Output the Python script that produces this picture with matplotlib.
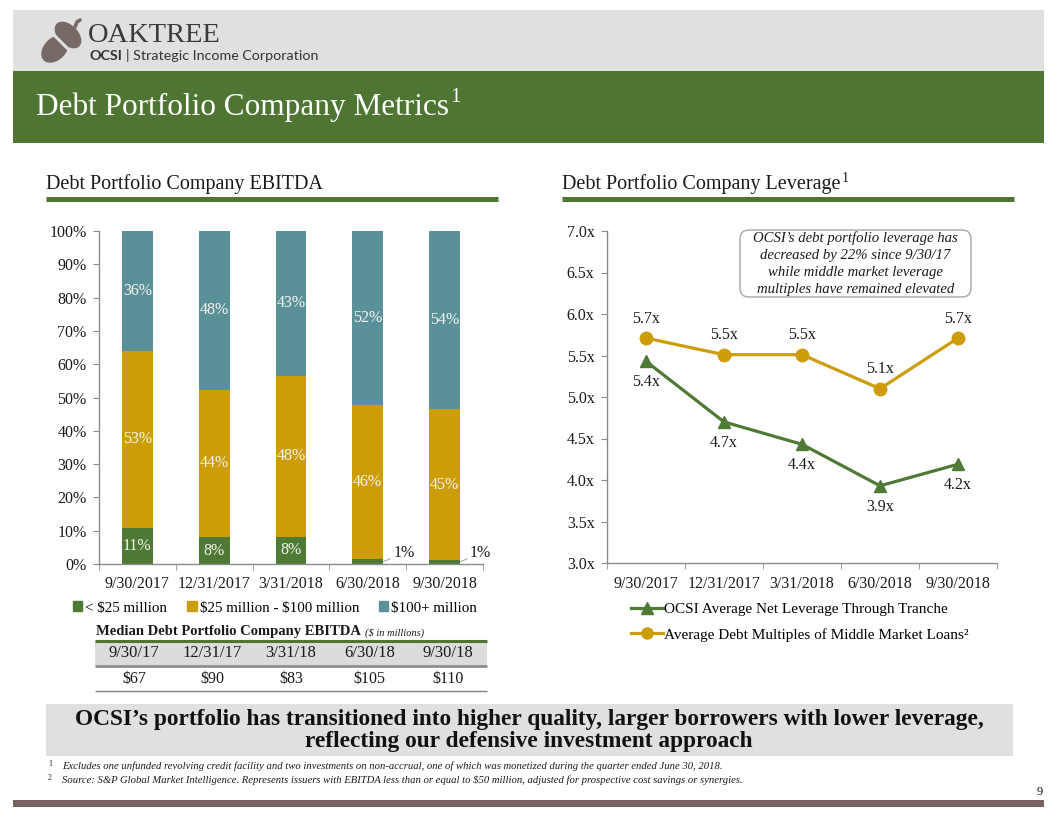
"""Debt Portfolio Company Metrics slide (OCSI) rebuilt with matplotlib."""

import matplotlib
matplotlib.use("Agg")
import matplotlib.pyplot as plt
from matplotlib.patches import Rectangle, FancyBboxPatch, Ellipse, Patch
from matplotlib.lines import Line2D

# ── data ─────────────────────────────────────────────────────────────────────
QUARTERS = ["9/30/2017", "12/31/2017", "3/31/2018", "6/30/2018", "9/30/2018"]
SIZE_BUCKETS = [r"< \$25 million", r"\$25 million - \$100 million", r"\$100+ million"]
EBITDA_SMALL = [10.8, 8.1, 8.2, 1.4, 1.3]      # < $25 million (%)
EBITDA_MID = [53.2, 44.3, 48.4, 46.3, 45.1]    # $25 - $100 million (%)
EBITDA_LARGE = [36.0, 47.6, 43.4, 52.3, 53.6]  # $100+ million (%)

TABLE_DATES = ["9/30/17", "12/31/17", "3/31/18", "6/30/18", "9/30/18"]
MEDIAN_EBITDA = [67, 90, 83, 105, 110]          # $ in millions

LEVERAGE_SERIES = ["OCSI Average Net Leverage Through Tranche",
                   "Average Debt Multiples of Middle Market Loans²"]
OCSI_LEVERAGE = [5.43, 4.70, 4.43, 3.93, 4.19]
MARKET_LEVERAGE = [5.71, 5.51, 5.51, 5.10, 5.71]

# ── styling ──────────────────────────────────────────────────────────────────
W, H = 1056, 816
GREEN = "#4E7A35"
HEADER_GREEN = "#4E7531"
GOLD = "#CC9D07"
TEAL = "#5A9199"
LIGHT_GRAY = "#E0E0E0"
AXIS_GRAY = "#8C8C8C"
TEXT = "#1a1a1a"

plt.rcParams["font.family"] = ["Liberation Serif", "DejaVu Serif"]


def box(l, t, r, b):
    """Pixel box (top-left origin) -> figure fraction rect."""
    return [l / W, 1 - b / H, (r - l) / W, (b - t) / H]


fig = plt.figure(figsize=(W / 100, H / 100), dpi=100)
renderer = fig.canvas.get_renderer()

# background layer in pixel coordinates
bg = fig.add_axes([0, 0, 1, 1])
bg.set_xlim(0, W)
bg.set_ylim(H, 0)
bg.axis("off")


def text_right_edge(t):
    bb = t.get_window_extent(renderer=renderer)
    return bb.x1  # display px == image px at dpi 100


# ── header ───────────────────────────────────────────────────────────────────
bg.add_patch(Rectangle((13, 10), 1031, 61, fc=LIGHT_GRAY, ec="none"))
bg.add_patch(Rectangle((13, 71), 1031, 72, fc=HEADER_GREEN, ec="none"))

# acorn logo: nut lower-left, cap upper-right, split by a light gap
acorn = "#766A66"
bg.add_patch(Ellipse((55, 49), 22, 32, angle=45, fc=acorn, ec="none"))
bg.add_patch(Ellipse((68, 35), 32, 20, angle=45, fc=acorn, ec="none"))
bg.plot([51, 73], [32, 54], color=LIGHT_GRAY, lw=2.2, solid_capstyle="butt")
bg.plot([75, 77, 80], [27, 22, 20], color=acorn, lw=2.6, solid_capstyle="round")

bg.text(88, 35, "OAKTREE", fontsize=20.5, color="#3a3a3a", va="center", ha="left")
t = bg.text(90, 56, "OCSI", fontsize=10.3, weight="bold", color="#333333",
            family=["Lato", "DejaVu Sans"], va="center", ha="left")
x_end = text_right_edge(t)
bg.text(x_end + 3, 56, "| Strategic Income Corporation", fontsize=10.3, color="#333333",
        family=["Lato", "DejaVu Sans"], va="center", ha="left")

t = bg.text(36, 107, "Debt Portfolio Company Metrics", fontsize=22.5, color="white",
            va="center", ha="left")
bg.text(text_right_edge(t) + 1, 97, "1", fontsize=15, color="white", va="center", ha="left")

# ── section titles ───────────────────────────────────────────────────────────
bg.text(46, 184, "Debt Portfolio Company EBITDA", fontsize=14.5, color=TEXT, va="center")
t = bg.text(562, 184, "Debt Portfolio Company Leverage", fontsize=14.5, color=TEXT,
            va="center")
bg.text(text_right_edge(t) + 1, 178, "1", fontsize=10, color=TEXT, va="center")
bg.plot([46, 498], [198.5, 198.5], color=HEADER_GREEN, lw=3.6, solid_capstyle="butt")
bg.plot([562, 1014], [198.5, 198.5], color=HEADER_GREEN, lw=3.6, solid_capstyle="butt")


def style_axes(ax):
    ax.set_facecolor("none")
    for side in ("top", "right"):
        ax.spines[side].set_visible(False)
    for side in ("left", "bottom"):
        ax.spines[side].set_color(AXIS_GRAY)
        ax.spines[side].set_linewidth(1.0)
    ax.set_xlim(-0.5, len(QUARTERS) - 0.5)
    ax.set_xticks(range(len(QUARTERS)))
    ax.set_xticklabels(QUARTERS)
    ax.set_xticks([i - 0.5 for i in range(len(QUARTERS) + 1)], minor=True)
    ax.tick_params(axis="x", which="major", length=0, pad=9, labelsize=11.5, colors=TEXT)
    ax.tick_params(axis="x", which="minor", length=4, color=AXIS_GRAY, direction="out")
    ax.tick_params(axis="y", length=4, color=AXIS_GRAY, pad=5, labelsize=11.5,
                   labelcolor=TEXT)


# ── left chart: stacked EBITDA bars ──────────────────────────────────────────
ax1 = fig.add_axes(box(99, 231, 483, 564))
x = list(range(len(QUARTERS)))
bw = 0.4
mid_bottom = EBITDA_SMALL
top_bottom = [a + b for a, b in zip(EBITDA_SMALL, EBITDA_MID)]
ax1.bar(x, EBITDA_SMALL, bw, color=GREEN, label=SIZE_BUCKETS[0])
ax1.bar(x, EBITDA_MID, bw, bottom=mid_bottom, color=GOLD, label=SIZE_BUCKETS[1])
ax1.bar(x, EBITDA_LARGE, bw, bottom=top_bottom, color=TEAL, label=SIZE_BUCKETS[2])
ax1.set_ylim(0, 100)
ax1.set_yticks(range(0, 101, 10))
ax1.set_yticklabels([f"{v}%" for v in range(0, 101, 10)])
style_axes(ax1)

label_kw = dict(ha="center", va="center", fontsize=11.5, color="#F5F5F0")
for i in x:
    for val, base in ((EBITDA_MID[i], mid_bottom[i]), (EBITDA_LARGE[i], top_bottom[i])):
        ax1.text(i, base + val / 2, f"{round(val)}%", **label_kw)
    small = EBITDA_SMALL[i]
    if small >= 5:
        ax1.text(i, small / 2, f"{round(small)}%", **label_kw)
    else:
        ax1.annotate(f"{round(small)}%", xy=(i + bw / 2, small / 2),
                     xytext=(i + bw / 2 + 0.13, small / 2 + 2.6),
                     ha="left", va="center", fontsize=11.5, color=TEXT,
                     arrowprops=dict(arrowstyle="-", color="#A6A6A6", lw=0.8,
                                     shrinkA=0, shrinkB=0))

handles = [Patch(color=c) for c in (GREEN, GOLD, TEAL)]
fig.legend(handles, SIZE_BUCKETS, loc="center", bbox_to_anchor=(275 / W, 1 - 608 / H),
           ncol=3, frameon=False, fontsize=10.8, handlelength=0.65, handleheight=0.65,
           handletextpad=0.2, columnspacing=1.3)

# ── median EBITDA table ──────────────────────────────────────────────────────
t = bg.text(96, 632, "Median Debt Portfolio Company EBITDA", fontsize=10.5,
            weight="bold", color=TEXT, va="center")
bg.text(text_right_edge(t) + 4, 633, r"(\$ in millions)", fontsize=7.5, style="italic",
        color=TEXT, va="center")
bg.add_patch(Rectangle((95, 641), 392, 24, fc="#DCDCDC", ec="none"))
bg.plot([95, 487], [640.5, 640.5], color=HEADER_GREEN, lw=2.2, solid_capstyle="butt")
bg.plot([95, 487], [666, 666], color="#8C8C8C", lw=2.0, solid_capstyle="butt")
bg.plot([95, 487], [691, 691], color="#7F7F7F", lw=1.0, solid_capstyle="butt")
col_w = 392 / len(TABLE_DATES)
for i, (d, v) in enumerate(zip(TABLE_DATES, MEDIAN_EBITDA)):
    cx = 95 + col_w * (i + 0.5)
    bg.text(cx, 653, d, fontsize=12, color=TEXT, ha="center", va="center")
    bg.text(cx, 679, rf"\${v}", fontsize=11.5, color=TEXT, ha="center", va="center")

# ── right chart: leverage lines ──────────────────────────────────────────────
ax2 = fig.add_axes(box(607, 231, 997, 563))
ax2.plot(x, OCSI_LEVERAGE, color=GREEN, lw=2.3, marker="^", ms=9,
         label=LEVERAGE_SERIES[0], zorder=3)
ax2.plot(x, MARKET_LEVERAGE, color=GOLD, lw=2.3, marker="o", ms=9,
         label=LEVERAGE_SERIES[1], zorder=3)
ax2.set_ylim(3.0, 7.0)
yt = [3.0 + 0.5 * k for k in range(9)]
ax2.set_yticks(yt)
ax2.set_yticklabels([f"{v:.1f}x" for v in yt])
style_axes(ax2)

for i in x:
    ax2.annotate(f"{MARKET_LEVERAGE[i]:.1f}x", (i, MARKET_LEVERAGE[i]), xytext=(0, 14),
                 textcoords="offset points", ha="center", va="center",
                 fontsize=11.5, color=TEXT)
    ax2.annotate(f"{OCSI_LEVERAGE[i]:.1f}x", (i, OCSI_LEVERAGE[i]), xytext=(0, -15),
                 textcoords="offset points", ha="center", va="center",
                 fontsize=11.5, color=TEXT)

bg.add_patch(FancyBboxPatch((740, 230), 231, 67, boxstyle="round,pad=0,rounding_size=9",
                            fc="white", ec="#A6A6A6", lw=1.0))
bg.text(855.5, 264,
        "OCSI’s debt portfolio leverage has\ndecreased by 22% since 9/30/17\n"
        "while middle market leverage\nmultiples have remained elevated",
        fontsize=10.6, style="italic", color=TEXT, ha="center", va="center",
        linespacing=1.4)

line_handles = [Line2D([], [], color=GREEN, lw=2.3, marker="^", ms=8),
                Line2D([], [], color=GOLD, lw=2.3, marker="o", ms=8)]
fig.legend(line_handles, LEVERAGE_SERIES, loc="upper left",
           bbox_to_anchor=(620 / W, 1 - 592 / H), frameon=False, fontsize=11,
           handlelength=2.1, handletextpad=0.05, labelspacing=0.75, borderpad=0.2)

# ── takeaway banner and footnotes ────────────────────────────────────────────
bg.add_patch(Rectangle((46, 704), 967, 52, fc=LIGHT_GRAY, ec="none"))
bg.text(529, 720, "OCSI’s portfolio has transitioned into higher quality, larger borrowers "
        "with lower leverage,", fontsize=16.8, weight="bold", color="#111111",
        ha="center", va="center")
bg.text(529, 741, "reflecting our defensive investment approach", fontsize=16.8,
        weight="bold", color="#111111", ha="center", va="center")

footnotes = [
    "Excludes one unfunded revolving credit facility and two investments on non-accrual, "
    "one of which was monetized during the quarter ended June 30, 2018.",
    r"Source: S&P Global Market Intelligence. Represents issuers with EBITDA less than or "
    r"equal to \$50 million, adjusted for prospective cost savings or synergies.",
]
for k, note in enumerate(footnotes):
    y = 766 + 14.5 * k
    bg.text(48, y - 2, str(k + 1), fontsize=5.5, color=TEXT, va="center")
    bg.text(62, y, note, fontsize=7.7, style="italic", color=TEXT, va="center")

bg.text(1040, 792, "9", fontsize=9, color=TEXT, ha="center", va="center")
bg.add_patch(Rectangle((13, 800), 1031, 7, fc="#75645E", ec="none"))

fig.savefig("out.png", dpi=100, facecolor="white")
